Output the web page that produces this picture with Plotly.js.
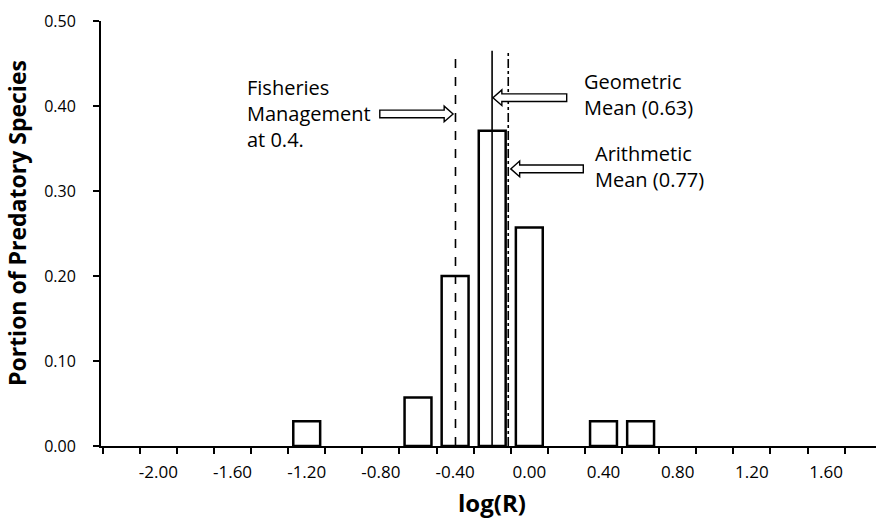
<!DOCTYPE html>
<html>
<head>
<meta charset="utf-8">
<script src="https://cdn.plot.ly/plotly-3.0.1.min.js"></script>
<style>html,body{margin:0;padding:0;background:#fff;}#chart{width:876px;height:521px;}</style>
</head>
<body>
<div id="chart"></div>
<script>
// Histogram bins (log(R) bin centers) and portion of predatory species
const binCenters = [-1.20, -0.60, -0.40, -0.20, 0.00, 0.40, 0.60];
const portion = [0.029, 0.057, 0.200, 0.371, 0.257, 0.029, 0.029];

// Reference values (R) for vertical lines
const refNames = ["Fisheries Management", "Geometric Mean", "Arithmetic Mean"];
const refValues = [0.4, 0.63, 0.77];
const refDash = ["dash", "solid", "dashdot"];
const refLineTop = 0.465;

// Tick labels on x axis
const xTickVals = [-2.0, -1.6, -1.2, -0.8, -0.4, 0.0, 0.4, 0.8, 1.2, 1.6];
const xTickText = ["-2.00", "-1.60", "-1.20", "-0.80", "-0.40", "0.00", "0.40", "0.80", "1.20", "1.60"];
const yTickVals = [0, 0.1, 0.2, 0.3, 0.4, 0.5];

const FONT = "'Open Sans', 'DejaVu Sans', sans-serif";

const traces = [{
  type: "bar",
  x: binCenters,
  y: portion,
  width: 0.145,
  marker: {color: "#ffffff", line: {color: "#000000", width: 2.5}},
  hoverinfo: "x+y",
  showlegend: false
}];

refValues.forEach((r, i) => {
  const lx = Math.log10(r);
  traces.push({
    type: "scatter",
    mode: "lines",
    x: [lx, lx],
    y: [0, refLineTop],
    line: {color: "#000000", width: 1.6, dash: refDash[i]},
    name: refNames[i],
    showlegend: false,
    hoverinfo: "name"
  });
});

// Block-arrow helper (data coordinates)
function blockArrow(tipX, tailX, yc) {
  const dir = tipX > tailX ? 1 : -1;
  const headLen = 0.048;
  const bh = 0.0045, hh = 0.0092;
  const hx = tipX - dir * headLen;
  return {
    type: "path", xref: "x", yref: "y",
    path: `M ${tailX} ${yc - bh} L ${hx} ${yc - bh} L ${hx} ${yc - hh} L ${tipX} ${yc} L ${hx} ${yc + hh} L ${hx} ${yc + bh} L ${tailX} ${yc + bh} Z`,
    line: {color: "#000000", width: 1.4},
    fillcolor: "#ffffff"
  };
}

const shapes = [
  blockArrow(-0.411, -0.806, 0.3906),
  blockArrow(-0.196, 0.2016, 0.4098),
  blockArrow(-0.100, 0.291, 0.326)
];

const annFont = {family: FONT, size: 20, color: "#000000"};
const annotations = [
  {x: -1.533, y: 0.391, xref: "x", yref: "y", xanchor: "left", yanchor: "middle", align: "left",
   text: "Fisheries<br>Management<br>at 0.4.", showarrow: false, font: annFont},
  {x: 0.282, y: 0.413, xref: "x", yref: "y", xanchor: "left", yanchor: "middle", align: "left",
   text: "Geometric<br>Mean (0.63)", showarrow: false, font: annFont},
  {x: 0.345, y: 0.329, xref: "x", yref: "y", xanchor: "left", yanchor: "middle", align: "left",
   text: "Arithmetic<br>Mean (0.77)", showarrow: false, font: annFont},
  // axis titles
  {x: 0, y: 0, xref: "paper", yref: "paper", xanchor: "center", yanchor: "middle",
   text: "<b>Portion of Predatory Species</b>", textangle: -90, showarrow: false,
   font: {family: FONT, size: 23, color: "#000000"}},
  {x: 0.5, y: 0, xref: "paper", yref: "paper", xanchor: "center", yanchor: "middle",
   text: "<b>log(R)</b>", showarrow: false,
   font: {family: FONT, size: 24, color: "#000000"}}
];
// convert pixel spots for axis titles into paper fractions
(function () {
  const L = 101, R = 0, T = 21, B = 75, W = 876, H = 521;
  const pw = W - L - R, ph = H - T - B;
  annotations[3].x = (17 - L) / pw;
  annotations[3].y = (H - B - 223) / ph;
  annotations[4].x = (491.5 - L) / pw;
  annotations[4].y = (H - B - 503) / ph;
})();

const layout = {
  width: 876, height: 521,
  margin: {l: 101, r: 0, t: 21, b: 75},
  paper_bgcolor: "#ffffff", plot_bgcolor: "#ffffff",
  font: {family: FONT, color: "#000000"},
  showlegend: false,
  bargap: 0,
  xaxis: {
    range: [-2.309, 1.869],
    tickmode: "array", tickvals: xTickVals, ticktext: xTickText,
    ticks: "", ticklabelstandoff: 10,
    tickfont: {family: FONT, size: 17, color: "#000000"},
    showline: true, linecolor: "#000000", linewidth: 2,
    showgrid: false, zeroline: false,
    minor: {tickmode: "linear", tick0: -2.3, dtick: 0.2, ticks: "outside", ticklen: 6, tickwidth: 2, tickcolor: "#000000", showgrid: false},
    automargin: false, fixedrange: true
  },
  yaxis: {
    range: [0, 0.5],
    tickmode: "array", tickvals: yTickVals, tickformat: ".2f",
    ticks: "outside", ticklen: 6, tickwidth: 2, tickcolor: "#000000",
    ticklabelstandoff: 14,
    tickfont: {family: FONT, size: 16, color: "#000000"},
    showline: true, linecolor: "#000000", linewidth: 2,
    showgrid: false, zeroline: false,
    automargin: false, fixedrange: true
  },
  shapes: shapes,
  annotations: annotations
};

Plotly.newPlot("chart", traces, layout, {displayModeBar: false, staticPlot: true});
</script>
</body>
</html>
